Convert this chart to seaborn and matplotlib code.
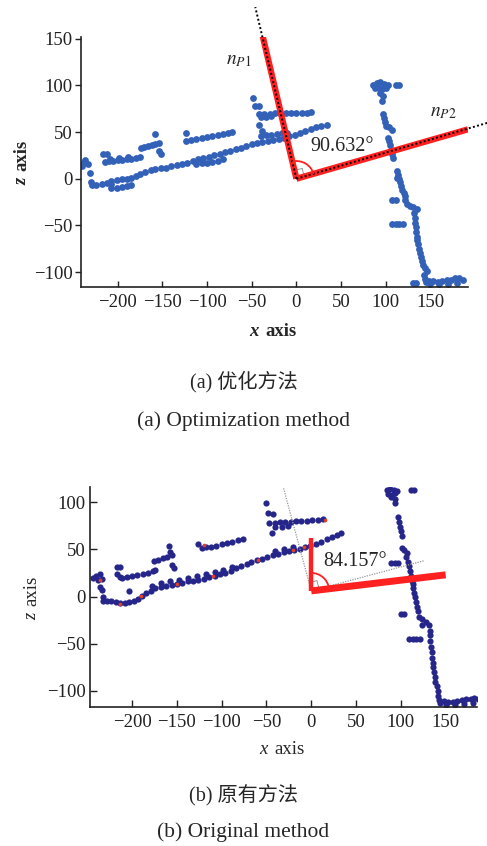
import numpy as np
import pandas as pd
import matplotlib.pyplot as plt
from matplotlib.patches import Arc
import seaborn as sns

# ---------------- data ----------------
# (a) optimised method: point cloud pieces (x, z)
a_lower_strip = [(-230, -3), (-229, -7), (-224, -7), (-218, -6), (-212, -5), (-207, -6),
                 (-207, -10), (-201, -10), (-195, -9), (-189, -8), (-185, -7),
                 (-207, -2), (-201, -1), (-195, 0), (-190, 0), (-185, 1),
                 (-180, 3), (-175, 5), (-169, 7), (-163, 9), (-158, 10), (-152, 11),
                 (-146, 12), (-140, 14), (-134, 15), (-128, 16), (-122, 17), (-116, 19),
                 (-110, 21), (-104, 22), (-98, 23), (-92, 25), (-86, 27), (-80, 29),
                 (-74, 30), (-68, 32), (-62, 33), (-56, 35), (-50, 37), (-44, 38),
                 (-38, 39), (-32, 40), (-26, 42), (-20, 43), (-14, 44), (-8, 46),
                 (-2, 47), (4, 49), (10, 51), (16, 53), (22, 55), (28, 57), (34, 58),
                 (-112, 16), (-106, 17), (-100, 17), (-94, 18), (-88, 19), (-82, 21),
                 (-40, 46), (-34, 47), (-28, 47), (-22, 48), (-16, 49), (-10, 49)]
a_upper_rows = [(-240, 14), (-238, 18), (-236, 20), (-233, 16), (-231, 6),
                (-216, 27), (-212, 27),
                (-214, 18), (-210, 19), (-205, 19), (-200, 20), (-195, 20), (-190, 21),
                (-185, 21), (-180, 22), (-175, 23), (-208, 21), (-198, 22), (-188, 23),
                (-174, 33), (-170, 34), (-166, 35), (-162, 36), (-158, 37), (-154, 38),
                (-158, 48), (-154, 30), (-152, 27),
                (-124, 49), (-123, 41), (-118, 42), (-112, 43), (-106, 44), (-100, 45),
                (-94, 46), (-88, 47), (-82, 48), (-76, 49), (-72, 50)]
a_cluster = [(-48, 87), (-46, 78), (-42, 78), (-42, 69), (-36, 69), (-30, 69), (-24, 70),
             (-18, 70), (-12, 70), (-6, 70), (0, 71), (6, 71), (12, 71), (16, 72),
             (-40, 66), (-34, 66), (-28, 67), (-42, 58), (-38, 51)]
a_wall = [(86, 101), (90, 103), (94, 104), (98, 102), (102, 101), (88, 97), (92, 97),
          (96, 96), (100, 97), (94, 92), (97, 89), (111, 101), (115, 101),
          (96, 83), (97, 69), (98, 65), (99, 61), (100, 57), (104, 55), (107, 52),
          (103, 44), (104, 40), (105, 36), (106, 31), (107, 27), (108, 22), (113, 1),
          (113, 8), (114, 4), (115, 0), (116, -4), (117, -8), (118, -12),
          (107, -23), (111, -23), (120, -15), (121, -19), (122, -23), (124, -27),
          (127, -29), (131, -30), (135, -32), (132, -37), (133, -42), (133, -47),
          (134, -52), (134, -57), (135, -62), (107, -48), (111, -48), (115, -48), (119, -48),
          (135, -66), (136, -70), (137, -75), (138, -80), (139, -84), (140, -88),
          (142, -92), (144, -96), (146, -99), (143, -103), (144, -107), (145, -111),
          (148, -110), (153, -110), (158, -111), (163, -110), (168, -109), (173, -108),
          (178, -106), (182, -106), (186, -108), (150, -113), (160, -113), (170, -113),
          (180, -112), (130, -112), (134, -112)]
a_vec_x = [-38, 192]          # ends of n_P1, n_P2 (red)
a_vec_y = [154, 53]
a_ext_x = [-46, 214]          # ends of the dotted extensions
a_ext_y = [184, 60]
a_angle = '90.632°'

# (b) original method
b_lower_strip = [(-233, -1), (-233, -5), (-228, -5), (-223, -5), (-218, -6), (-213, -7),
                 (-208, -7), (-203, -6), (-198, -5), (-193, -3), (-203, 6),
                 (-189, 1), (-184, 4), (-179, 6), (-174, 9), (-168, 10), (-162, 11),
                 (-156, 12), (-150, 13), (-144, 14), (-138, 16), (-132, 17), (-126, 18),
                 (-120, 19), (-114, 21), (-108, 22), (-102, 24), (-96, 25), (-90, 27),
                 (-84, 30), (-78, 32), (-72, 34), (-67, 37), (-61, 39), (-55, 40),
                 (-49, 42), (-43, 44), (-37, 45), (-31, 47), (-25, 48), (-19, 49),
                 (-13, 50), (-7, 52), (-1, 54), (5, 56), (11, 58), (17, 61), (23, 63),
                 (29, 65), (33, 67),
                 (-178, 11), (-168, 14), (-158, 16), (-148, 18), (-138, 20), (-128, 22),
                 (-118, 24), (-108, 26), (-98, 28), (-88, 31), (-40, 48), (-30, 50), (-20, 52)]
b_upper_rows = [(-244, 20), (-240, 22), (-236, 24), (-238, 18), (-234, 19),
                (-236, 10), (-234, 7), (-217, 31), (-213, 31),
                (-217, 24), (-213, 21), (-211, 20), (-206, 21), (-200, 22), (-194, 23),
                (-188, 24), (-182, 25), (-177, 27), (-174, 28),
                (-176, 38), (-171, 39), (-166, 41), (-161, 42), (-156, 44),
                (-159, 54), (-158, 47), (-156, 33), (-153, 30),
                (-126, 56), (-122, 51), (-117, 52), (-112, 53), (-106, 54), (-100, 56),
                (-94, 57), (-88, 58), (-82, 60), (-76, 61)]
b_cluster = [(-50, 99), (-48, 89), (-43, 87), (-47, 78), (-41, 78), (-35, 79), (-29, 79),
             (-23, 79), (-17, 80), (-11, 80), (-5, 80), (1, 81), (7, 81), (13, 82),
             (-40, 74), (-33, 74), (-26, 75), (-44, 67)]
b_wall = [(84, 113), (88, 114), (92, 113), (96, 112), (86, 109), (90, 108), (94, 110),
          (89, 105), (93, 103), (111, 113), (115, 113), (94, 99),
          (97, 84), (98, 79), (99, 74), (100, 69), (101, 64),
          (101, 51), (104, 49), (107, 46), (106, 42), (89, 36), (93, 36), (97, 36),
          (108, 37), (109, 32), (110, 27), (111, 22), (112, 17), (113, 13),
          (114, 9), (115, 4), (116, -1), (117, -6), (118, -11), (119, -15),
          (100, -18), (104, -18), (120, -22), (124, -24), (128, -27), (131, -30), (124, -30),
          (109, -45), (113, -45), (117, -45), (121, -45),
          (132, -36), (133, -41), (133, -47), (134, -53), (135, -59), (135, -65),
          (136, -70), (136, -75), (137, -80), (138, -85), (138, -90),
          (140, -95), (141, -100), (142, -105), (143, -110), (144, -113),
          (148, -111), (153, -112), (158, -112), (163, -111), (168, -110), (173, -109),
          (178, -108), (182, -107), (186, -109), (150, -115), (160, -115), (170, -114),
          (180, -113)]
b_red_dots = [(-236, 18), (-214, -8), (-190, 1), (-150, 13), (-110, 22), (-60, 39),
              (-20, 49), (-120, 55), (15, 81), (-8, 52)]
b_origin = (0, 6)
b_vec_x = [0, 150]            # red vectors
b_vec_y = [62, 23]
b_gray_x = [-31, 126]         # gray dotted reference lines
b_gray_y = [115, 38]
b_angle = '84.157°'

# ---------------- style ----------------
sns.set_style('ticks')
plt.rcParams['font.family'] = ['Liberation Serif', 'Noto Sans CJK SC']
plt.rcParams['mathtext.fontset'] = 'stix'
plt.rcParams['axes.linewidth'] = 1.2
plt.rcParams['axes.edgecolor'] = '#222222'
plt.rcParams['xtick.color'] = '#222222'
plt.rcParams['ytick.color'] = '#222222'

blue = '#3361b8'
navy = '#25258a'
red = '#ff2020'
fs = 13.5


def cloud(*pieces):
    pts = [p for piece in pieces for p in piece]
    return pd.DataFrame(pts, columns=['x', 'z'])


def axis_label(ax, var, xy, vertical, weight):
    # italic variable + upright "axis", centred on xy (axes fraction)
    if not vertical:
        ax.annotate(var, xy=xy, xycoords='axes fraction', xytext=(-11.5, 0),
                    textcoords='offset points', ha='right', va='center',
                    style='italic', weight=weight, fontsize=fs, annotation_clip=False)
        ax.annotate('axis', xy=xy, xycoords='axes fraction', xytext=(-6.5, 0),
                    textcoords='offset points', ha='left', va='center',
                    weight=weight, fontsize=fs, annotation_clip=False)
    else:
        ax.annotate(var, xy=xy, xycoords='axes fraction', xytext=(0, -11.5),
                    textcoords='offset points', ha='center', va='top', rotation=90,
                    style='italic', weight=weight, fontsize=fs, annotation_clip=False)
        ax.annotate('axis', xy=xy, xycoords='axes fraction', xytext=(0, -6.5),
                    textcoords='offset points', ha='center', va='bottom', rotation=90,
                    weight=weight, fontsize=fs, annotation_clip=False)


def right_mark(ax, origin, v1, v2, size, color):
    u1 = np.array(v1, float) / np.hypot(*v1) * size
    u2 = np.array(v2, float) / np.hypot(*v2) * size
    o = np.array(origin, float)
    pts = np.array([o + u1, o + u1 + u2, o + u2])
    ax.plot(pts[:, 0], pts[:, 1], color=color, lw=0.6)


fig = plt.figure(figsize=(4.87, 8.46), dpi=100)

# ---------------- (a) ----------------
ax1 = fig.add_axes([0.1663, 0.6608, 0.7947, 0.2955])
sns.scatterplot(data=cloud(a_lower_strip, a_upper_rows, a_cluster, a_wall), x='x', y='z',
                ax=ax1, color=blue, s=24, linewidth=0, legend=False)
for ex, ey, vx, vy in zip(a_ext_x, a_ext_y, a_vec_x, a_vec_y):
    ax1.plot([0, vx], [0, vy], color=red, lw=4.5, solid_capstyle='butt', zorder=3)
    ax1.plot([0, ex], [0, ey], color='k', lw=1.4, ls=(0, (1, 1.2)), zorder=4, clip_on=False)
ang1 = np.degrees(np.arctan2(a_vec_y[1], a_vec_x[1]))
ang2 = np.degrees(np.arctan2(a_vec_y[0], a_vec_x[0]))
ax1.add_patch(Arc((0, 0), 40, 38, theta1=ang1, theta2=ang2, color=red, lw=1.3, zorder=4))
right_mark(ax1, (0, 0), (a_vec_x[0], a_vec_y[0]), (a_vec_x[1], a_vec_y[1]), 9, '#888888')
ax1.text(51, 35, a_angle, ha='center', va='center', fontsize=14.5)
ax1.text(-64, 127, r'$n_{P1}$', ha='center', va='center', fontsize=14)
ax1.text(164, 71, r'$n_{P2}$', ha='center', va='center', fontsize=14)

ax1.set_xlim(-241, 192)
ax1.set_ylim(-116, 152)
ax1.set_xticks(np.arange(-200, 151, 50))
ax1.set_yticks(np.arange(-100, 151, 50))
ax1.tick_params(axis='x', direction='in', length=4, width=1, labelsize=fs, pad=5)
ax1.tick_params(axis='y', direction='out', length=4, width=1, labelsize=fs, pad=2)
ax1.set_xlabel('')
ax1.set_ylabel('')
sns.despine(ax=ax1)
axis_label(ax1, 'x', (0.5, -0.18), False, 'bold')
axis_label(ax1, 'z', (-0.152, 0.5), True, 'bold')

# ---------------- (b) ----------------
ax2 = fig.add_axes([0.1848, 0.1643, 0.7947, 0.26])
sns.scatterplot(data=cloud(b_lower_strip, b_upper_rows, b_cluster, b_wall), x='x', y='z',
                ax=ax2, color=navy, s=20, linewidth=0, legend=False)
sns.scatterplot(data=cloud(b_red_dots), x='x', y='z', ax=ax2, color='#e0402a', s=7,
                linewidth=0, legend=False, zorder=3)
ox, oy = b_origin
for gx, gy in zip(b_gray_x, b_gray_y):
    ax2.plot([ox, gx], [oy, gy], color='#999999', lw=0.9, ls=(0, (1, 1)), zorder=3)
ax2.plot([ox, b_vec_x[0]], [oy, b_vec_y[0]], color=red, lw=3.2, solid_capstyle='butt', zorder=4)
ax2.plot([ox, b_vec_x[1]], [oy, b_vec_y[1]], color=red, lw=5, solid_capstyle='butt', zorder=4)
t1 = np.degrees(np.arctan2(b_vec_y[1] - oy, b_vec_x[1] - ox))
t2 = np.degrees(np.arctan2(b_vec_y[0] - oy, b_vec_x[0] - ox))
ax2.add_patch(Arc((ox, oy), 40, 38, theta1=t1, theta2=t2, color=red, lw=1.3, zorder=4))
right_mark(ax2, b_origin, (b_gray_x[0] - ox, b_gray_y[0] - oy),
           (b_gray_x[1] - ox, b_gray_y[1] - oy), 9, '#888888')
ax2.text(49, 37, b_angle, ha='center', va='center', fontsize=14.5)

ax2.set_xlim(-247, 185)
ax2.set_ylim(-117, 116)
ax2.set_xticks(np.arange(-200, 151, 50))
ax2.set_yticks(np.arange(-100, 101, 50))
ax2.tick_params(axis='both', direction='in', length=5, width=1, labelsize=fs)
ax2.tick_params(axis='x', pad=5)
ax2.tick_params(axis='y', pad=3)
ax2.set_xlabel('')
ax2.set_ylabel('')
sns.despine(ax=ax2)
axis_label(ax2, 'x', (0.5, -0.195), False, 'normal')
axis_label(ax2, 'z', (-0.15, 0.5), True, 'normal')

# ---------------- captions ----------------
fig.text(0.5, 1 - 382 / 846, '(a) 优化方法', ha='center', va='center', fontsize=14.5)
fig.text(0.5, 1 - 421 / 846, '(a) Optimization method', ha='center', va='center', fontsize=15.5)
fig.text(0.5, 1 - 795 / 846, '(b) 原有方法', ha='center', va='center', fontsize=14.5)
fig.text(0.5, 1 - 832 / 846, '(b) Original method', ha='center', va='center', fontsize=15.5)

fig.savefig('out.png', dpi=100)
